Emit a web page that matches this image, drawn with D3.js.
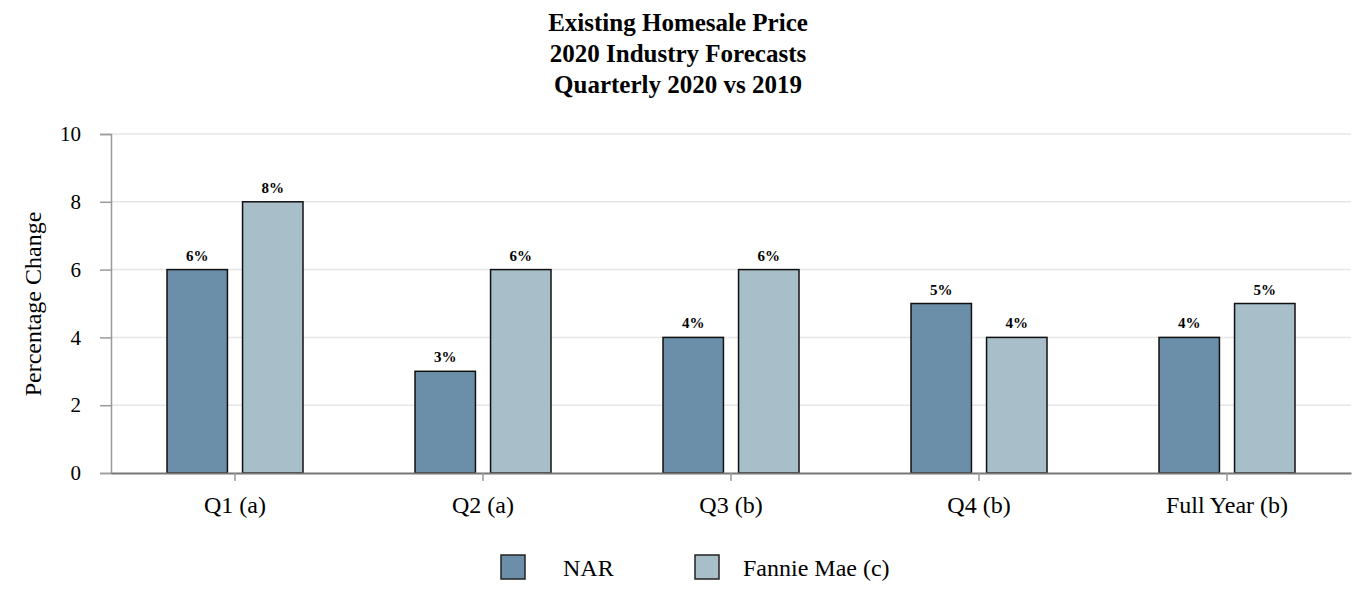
<!DOCTYPE html>
<html><head><meta charset="utf-8">
<script src="https://cdn.jsdelivr.net/npm/d3@7"></script>
<style>body{margin:0;background:#fff}svg{display:block}text{font-family:"Liberation Serif","Times New Roman",serif}</style>
</head><body>
<svg id="c" width="1360" height="600"></svg>
<script>
const categories = ["Q1 (a)", "Q2 (a)", "Q3 (b)", "Q4 (b)", "Full Year (b)"];
const seriesNames = ["NAR", "Fannie Mae (c)"];
const narValues = [6, 3, 4, 5, 4];
const fannieValues = [8, 6, 6, 4, 5];
const yTicks = [0, 2, 4, 6, 8, 10];
const titleLines = ["Existing Homesale Price", "2020 Industry Forecasts", "Quarterly 2020 vs 2019"];
const colors = ["#6b8fa9", "#a8bec9"];

(function () {
const svg = d3.select("#c");
const pLeft = 111, pRight = 1351, pTop = 134, pBottom = 473;
const x = d3.scaleBand().domain(categories).range([pLeft, pRight]).padding(0);
const y = d3.scaleLinear().domain([0, 10]).range([pBottom, pTop]);
const inner = d3.scaleBand().domain(seriesNames).range([0, 136]).paddingInner(0.2);
const offset = (x.bandwidth() - 136) / 2;

// gridlines
svg.append("g").selectAll("line").data(yTicks.filter(d => d > 0)).join("line")
  .attr("x1", pLeft).attr("x2", pRight).attr("y1", d => y(d)).attr("y2", d => y(d))
  .attr("stroke", "#e6e6e6").attr("stroke-width", 1.5);

// y axis
const ya = svg.append("g").attr("transform", `translate(${pLeft},0)`)
  .call(d3.axisLeft(y).tickValues(yTicks).tickSize(11).tickPadding(19));
ya.select(".domain").attr("stroke", "#9a9a9a").attr("stroke-width", 1.5);
ya.selectAll(".tick line").attr("stroke", "#9a9a9a").attr("stroke-width", 1.5);
ya.selectAll(".tick text").attr("font-size", 21).attr("fill", "#000")
  .attr("font-family", "'Liberation Serif', serif");

// bars
const data = categories.map((c, i) => ({c, vals: [narValues[i], fannieValues[i]]}));
const groups = svg.append("g").selectAll("g").data(data).join("g")
  .attr("transform", d => `translate(${x(d.c) + offset},0)`);
groups.selectAll("rect").data(d => d.vals.map((v, j) => ({v, s: seriesNames[j], j}))).join("rect")
  .attr("x", d => inner(d.s)).attr("width", inner.bandwidth())
  .attr("y", d => y(d.v)).attr("height", d => y(0) - y(d.v))
  .attr("fill", d => colors[d.j]).attr("stroke", "#111").attr("stroke-width", 1.5);
groups.selectAll("text").data(d => d.vals.map((v, j) => ({v, s: seriesNames[j]}))).join("text")
  .attr("x", d => inner(d.s) + inner.bandwidth() / 2).attr("y", d => y(d.v) - 9)
  .attr("text-anchor", "middle").attr("font-size", 15).attr("font-weight", "bold")
  .text(d => d.v + "%");

// x axis
const xa = svg.append("g").attr("transform", `translate(0,${pBottom})`)
  .call(d3.axisBottom(x).tickSize(8).tickPadding(15).tickSizeOuter(0));
xa.select(".domain").attr("stroke", "#777").attr("stroke-width", 2);
xa.selectAll(".tick line").attr("stroke", "#9a9a9a").attr("stroke-width", 1.5);
xa.selectAll(".tick text").attr("font-size", 24).attr("fill", "#000")
  .attr("font-family", "'Liberation Serif', serif");

// y label
svg.append("text").attr("transform", "translate(41,304) rotate(-90)")
  .attr("text-anchor", "middle").attr("font-size", 24).text("Percentage Change");

// title
svg.append("g").selectAll("text").data(titleLines).join("text")
  .attr("x", 678).attr("y", (d, i) => 31 + i * 31).attr("text-anchor", "middle")
  .attr("font-size", 25).attr("font-weight", "bold").text(d => d);

// legend
const legX = [501, 695];
const lg = svg.append("g").selectAll("g").data(seriesNames).join("g")
  .attr("transform", (d, i) => `translate(${legX[i]},555)`);
lg.append("rect").attr("width", 24).attr("height", 24)
  .attr("fill", (d, i) => colors[i]).attr("stroke", "#222").attr("stroke-width", 1.5);
lg.append("text").attr("x", (d, i) => i === 0 ? 62 : 48).attr("y", 21)
  .attr("font-size", 24).text(d => d);
})();
</script>
</body></html>
